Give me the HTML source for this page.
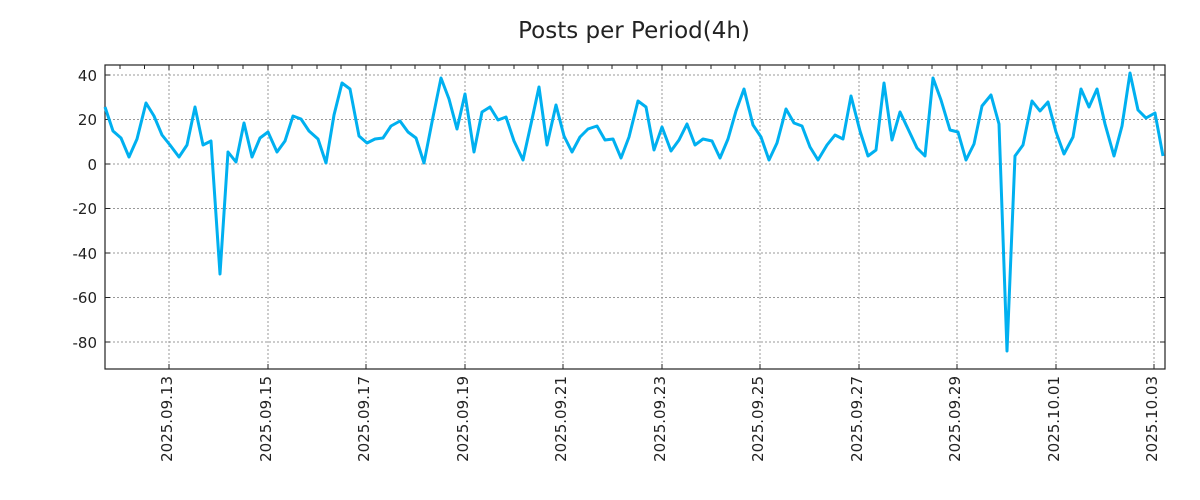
<!DOCTYPE html>
<html><head><meta charset="utf-8"><style>
html,body{margin:0;padding:0;background:#fff;}
svg{display:block;font-family:"DejaVu Sans","Liberation Sans",sans-serif;}
</style></head><body>
<svg width="1200" height="500" viewBox="0 0 1200 500">
<rect width="1200" height="500" fill="#fff"/>
<text x="634" y="38" font-size="23" text-anchor="middle" fill="#222">Posts per Period(4h)</text>
<g stroke="#999" stroke-width="1" stroke-dasharray="2,2">
<line x1="105" x2="1165" y1="75" y2="75"/><line x1="105" x2="1165" y1="119.5" y2="119.5"/>
<line x1="105" x2="1165" y1="164" y2="164"/><line x1="105" x2="1165" y1="208.5" y2="208.5"/>
<line x1="105" x2="1165" y1="253" y2="253"/><line x1="105" x2="1165" y1="297.5" y2="297.5"/>
<line x1="105" x2="1165" y1="342" y2="342"/>
<line x1="169" x2="169" y1="65" y2="369"/><line x1="268" x2="268" y1="65" y2="369"/>
<line x1="366" x2="366" y1="65" y2="369"/><line x1="465" x2="465" y1="65" y2="369"/>
<line x1="563" x2="563" y1="65" y2="369"/><line x1="662" x2="662" y1="65" y2="369"/>
<line x1="760" x2="760" y1="65" y2="369"/><line x1="859" x2="859" y1="65" y2="369"/>
<line x1="957" x2="957" y1="65" y2="369"/><line x1="1056" x2="1056" y1="65" y2="369"/>
<line x1="1154" x2="1154" y1="65" y2="369"/>
</g>
<rect x="105" y="65" width="1060" height="304" fill="none" stroke="#222" stroke-width="1.2"/>
<g stroke="#222" stroke-width="1">
<path d="M105 75h5M105 119.5h5M105 164h5M105 208.5h5M105 253h5M105 297.5h5M105 342h5"/>
<path d="M1165 75h-5M1165 119.5h-5M1165 164h-5M1165 208.5h-5M1165 253h-5M1165 297.5h-5M1165 342h-5"/>
<path d="M169 369v-5M268 369v-5M366 369v-5M465 369v-5M563 369v-5M662 369v-5M760 369v-5M859 369v-5M957 369v-5M1056 369v-5M1154 369v-5"/>
<path d="M120 65v4M144.5 65v4M169 65v5M193.6 65v4M218 65v4M243 65v4M268 65v5M292 65v4M317 65v4M341 65v4M366 65v5M391 65v4M415 65v4M440 65v4M465 65v5M489 65v4M514 65v4M538 65v4M563 65v5M588 65v4M612 65v4M637 65v4M662 65v5M686 65v4M711 65v4M735 65v4M760 65v5M785 65v4M809 65v4M834 65v4M859 65v5M883 65v4M908 65v4M932 65v4M957 65v5M982 65v4M1006 65v4M1031 65v4M1056 65v5M1080 65v4M1105 65v4M1129 65v4M1154 65v5"/>
</g>
<g font-size="15" fill="#222" text-anchor="end">
<text x="97" y="81">40</text><text x="97" y="125">20</text><text x="97" y="170">0</text>
<text x="97" y="214">-20</text><text x="97" y="259">-40</text><text x="97" y="303">-60</text><text x="97" y="348">-80</text>
</g>
<g font-size="15" fill="#222" text-anchor="end">
<text transform="translate(172,376) rotate(-90)">2025.09.13</text>
<text transform="translate(271,376) rotate(-90)">2025.09.15</text>
<text transform="translate(369,376) rotate(-90)">2025.09.17</text>
<text transform="translate(468,376) rotate(-90)">2025.09.19</text>
<text transform="translate(566,376) rotate(-90)">2025.09.21</text>
<text transform="translate(665,376) rotate(-90)">2025.09.23</text>
<text transform="translate(763,376) rotate(-90)">2025.09.25</text>
<text transform="translate(862,376) rotate(-90)">2025.09.27</text>
<text transform="translate(960,376) rotate(-90)">2025.09.29</text>
<text transform="translate(1059,376) rotate(-90)">2025.10.01</text>
<text transform="translate(1157,376) rotate(-90)">2025.10.03</text>
</g>
<polyline fill="none" stroke="#00b0f0" stroke-width="3" stroke-linejoin="round" points="105,107 113,131 121,138 129,157 137,139 146,103 154,116 162,135 170,145 179,157 187,145 195,107 203,145 211,141 220,274 228,152 236,162 244,123 252,157 260,138 268,132 277,152 285,141 293,116 301,119 309,131 318,139 326,163 334,115 342,83 350,89 359,136 367,143 375,139 383,138 391,126 400,121 408,132 416,138 424,163 433,117 441,78 449,99 457,129 465,94 474,152 482,112 490,107 498,120 506,117 514,141 523,160 531,124 539,87 547,145 556,105 564,136 572,152 580,137 588,129 597,126 605,140 613,139 621,158 629,137 638,101 646,107 654,150 662,127 671,151 679,140 687,124 695,145 703,139 712,141 720,158 728,139 736,111 744,89 753,125 761,137 769,160 777,143 786,109 794,123 802,126 810,147 818,160 827,145 835,135 843,139 851,96 860,131 868,156 876,150 884,83 892,140 900,112 909,131 917,148 925,156 933,78 941,100 950,130 958,132 966,160 974,144 982,106 991,95 999,124 1007,351 1015,156 1023,145 1032,101 1040,111 1048,102 1056,132 1064,154 1073,137 1081,89 1089,107 1097,89 1105,124 1114,156 1122,126 1130,73 1138,110 1146,118 1155,113 1163,156"/>
</svg>
</body></html>
